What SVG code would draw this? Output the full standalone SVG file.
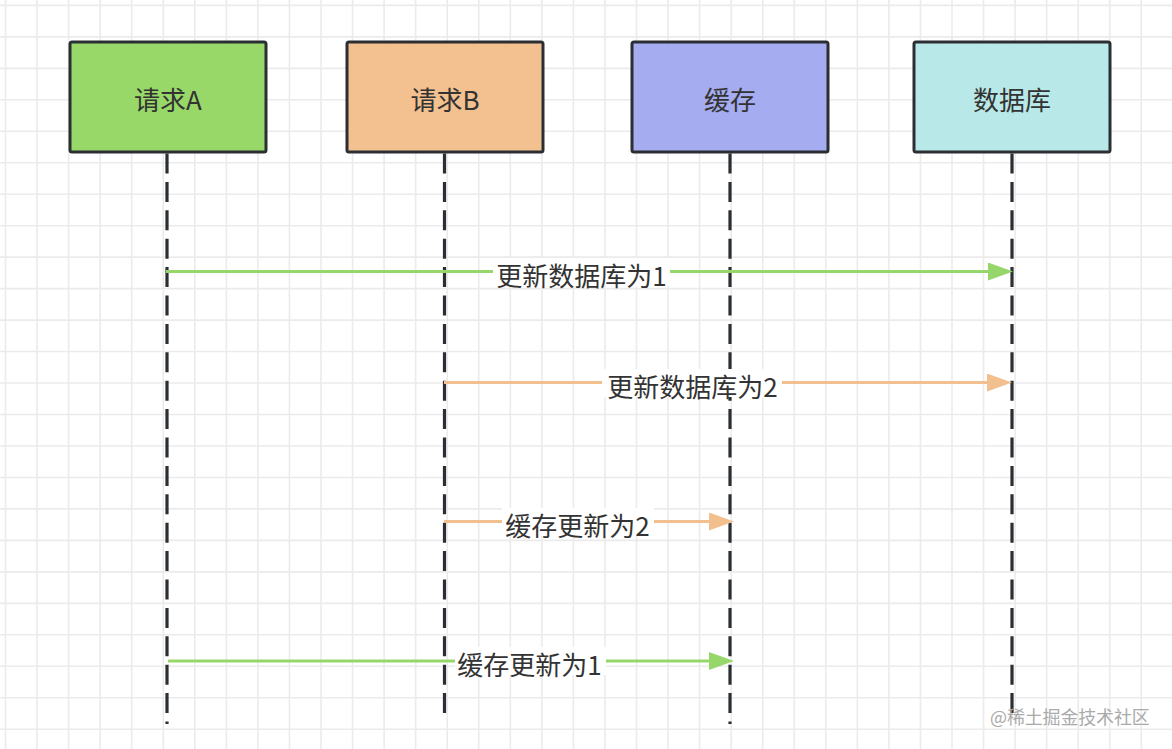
<svg xmlns="http://www.w3.org/2000/svg" width="1172" height="749" viewBox="0 0 1172 749">
<style>
.grid{stroke:#ebebeb;stroke-width:1.6;fill:none}
.box{stroke:#2b2f33;stroke-width:3}
.life{stroke:#2b2f33;stroke-width:3.2;stroke-dasharray:20 8.4;fill:none}
.t{font-family:"Noto Sans CJK SC","Noto Sans",sans-serif;font-size:26px;fill:#333;text-anchor:middle;dominant-baseline:central}
.g{stroke:#97d66b;stroke-width:3;fill:none}
.o{stroke:#f2c08f;stroke-width:3;fill:none}
.bg{fill:#fff}
.wm{font-family:"Noto Sans CJK SC",sans-serif;font-size:18px;fill:#aaa;letter-spacing:0.2px}
</style>
<defs>
<marker id="ag" markerUnits="userSpaceOnUse" markerWidth="26" markerHeight="18" refX="0" refY="9" orient="auto"><path d="M0,0 L25,9 L0,18 z" fill="#97d66b"/></marker>
<marker id="ao" markerUnits="userSpaceOnUse" markerWidth="26" markerHeight="18" refX="0" refY="9" orient="auto"><path d="M0,0 L25,9 L0,18 z" fill="#f2c08f"/></marker>
</defs>
<rect x="0" y="0" width="1172" height="749" fill="#fff"/>
<path class="grid" d="M5.5,0V749M37.05,0V749M68.6,0V749M100.15,0V749M131.7,0V749M163.25,0V749M194.8,0V749M226.35,0V749M257.9,0V749M289.45,0V749M321,0V749M352.55,0V749M384.1,0V749M415.65,0V749M447.2,0V749M478.75,0V749M510.3,0V749M541.85,0V749M573.4,0V749M604.95,0V749M636.5,0V749M668.05,0V749M699.6,0V749M731.15,0V749M762.7,0V749M794.25,0V749M825.8,0V749M857.35,0V749M888.9,0V749M920.45,0V749M952,0V749M983.55,0V749M1015.1,0V749M1046.65,0V749M1078.2,0V749M1109.75,0V749M1141.3,0V749
M0,5.4H1172M0,36.87H1172M0,68.34H1172M0,99.81H1172M0,131.28H1172M0,162.75H1172M0,194.22H1172M0,225.69H1172M0,257.16H1172M0,288.63H1172M0,320.1H1172M0,351.57H1172M0,383.04H1172M0,414.51H1172M0,445.98H1172M0,477.45H1172M0,508.92H1172M0,540.39H1172M0,571.86H1172M0,603.33H1172M0,634.8H1172M0,666.27H1172M0,697.74H1172M0,729.21H1172"/>
<g id="lifelines">
<line class="life" x1="167" y1="153.5" x2="167" y2="724"/>
<line class="life" x1="444.5" y1="153.5" x2="444.5" y2="714"/>
<line class="life" x1="730" y1="153.5" x2="730" y2="724"/>
<line class="life" x1="1012" y1="153.5" x2="1012" y2="720"/>
</g>
<g id="reqA"><rect class="box" x="70" y="42" width="196" height="110" rx="2" fill="#97d869"/><text class="t" x="168" y="98">请求A</text></g>
<g id="reqB"><rect class="box" x="347" y="42" width="196" height="110" rx="2" fill="#f3c08f"/><text class="t" x="445" y="98">请求B</text></g>
<g id="cache"><rect class="box" x="632" y="42" width="196" height="110" rx="2" fill="#a5acf0"/><text class="t" x="730" y="98">缓存</text></g>
<g id="db"><rect class="box" x="914" y="42" width="196" height="110" rx="2" fill="#b8e9e8"/><text class="t" x="1012" y="98">数据库</text></g>
<g id="connectors">
<line class="g" x1="166" y1="271.5" x2="988" y2="271.5" marker-end="url(#ag)"/>
<rect class="bg" x="493" y="258" width="177" height="28"/>
<text class="t" x="581.5" y="274">更新数据库为1</text>
<line class="o" x1="444" y1="382.5" x2="987" y2="382.5" marker-end="url(#ao)"/>
<rect class="bg" x="602" y="369" width="180" height="28"/>
<text class="t" x="692.5" y="385">更新数据库为2</text>
<line class="o" x1="444" y1="521.5" x2="709" y2="521.5" marker-end="url(#ao)"/>
<rect class="bg" x="502" y="508" width="152" height="28"/>
<text class="t" x="577.5" y="524">缓存更新为2</text>
<line class="g" x1="168" y1="661" x2="709" y2="661" marker-end="url(#ag)"/>
<rect class="bg" x="455" y="647" width="151" height="28"/>
<text class="t" x="529.5" y="663.5">缓存更新为1</text>
</g>
<text class="wm" x="990" y="724" textLength="160">@稀土掘金技术社区</text>
</svg>
